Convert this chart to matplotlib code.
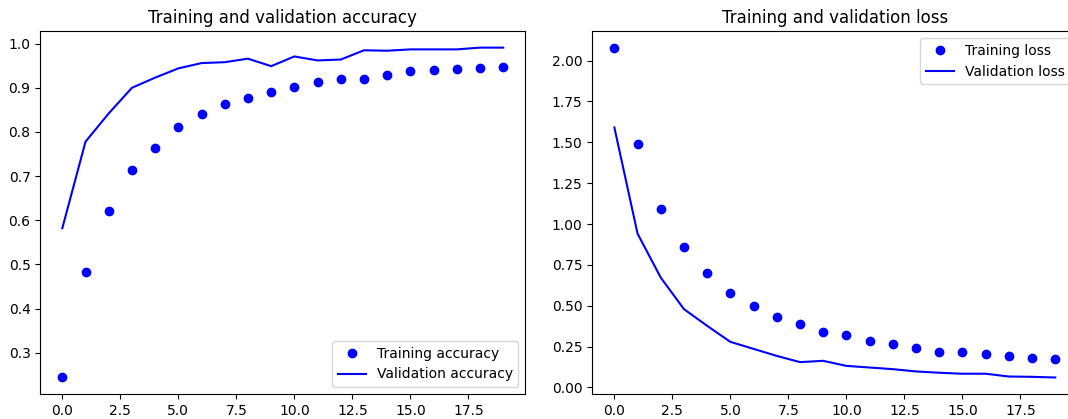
import matplotlib
matplotlib.use("Agg")
import matplotlib.pyplot as plt

epochs = list(range(20))

acc = [0.244, 0.482, 0.622, 0.713, 0.764, 0.812, 0.840, 0.864, 0.876, 0.891,
       0.902, 0.913, 0.920, 0.920, 0.929, 0.938, 0.940, 0.943, 0.944, 0.947]
val_acc = [0.582, 0.778, 0.842, 0.900, 0.923, 0.944, 0.956, 0.958, 0.966, 0.949,
           0.971, 0.962, 0.964, 0.985, 0.984, 0.987, 0.987, 0.987, 0.991, 0.991]

loss = [2.079, 1.489, 1.092, 0.857, 0.701, 0.580, 0.497, 0.432, 0.389, 0.340,
        0.318, 0.287, 0.263, 0.244, 0.220, 0.214, 0.204, 0.191, 0.179, 0.173]
val_loss = [1.591, 0.941, 0.672, 0.479, 0.377, 0.279, 0.236, 0.193, 0.155, 0.163,
            0.132, 0.122, 0.112, 0.098, 0.090, 0.084, 0.084, 0.067, 0.065, 0.061]

fig = plt.figure(figsize=(10.68, 4.19), dpi=100)
ax1 = fig.add_axes([0.0377, 0.0597, 0.4541, 0.866])
ax2 = fig.add_axes([0.5546, 0.0597, 0.4541, 0.866])

ax1.plot(epochs, acc, "bo", label="Training accuracy")
ax1.plot(epochs, val_acc, "b", label="Validation accuracy")
ax1.set_title("Training and validation accuracy")
ax1.legend(loc="lower right")

ax2.plot(epochs, loss, "bo", label="Training loss")
ax2.plot(epochs, val_loss, "b", label="Validation loss")
ax2.set_title("Training and validation loss")
ax2.legend(loc="upper right")

fig.savefig("out.png", dpi=100)
